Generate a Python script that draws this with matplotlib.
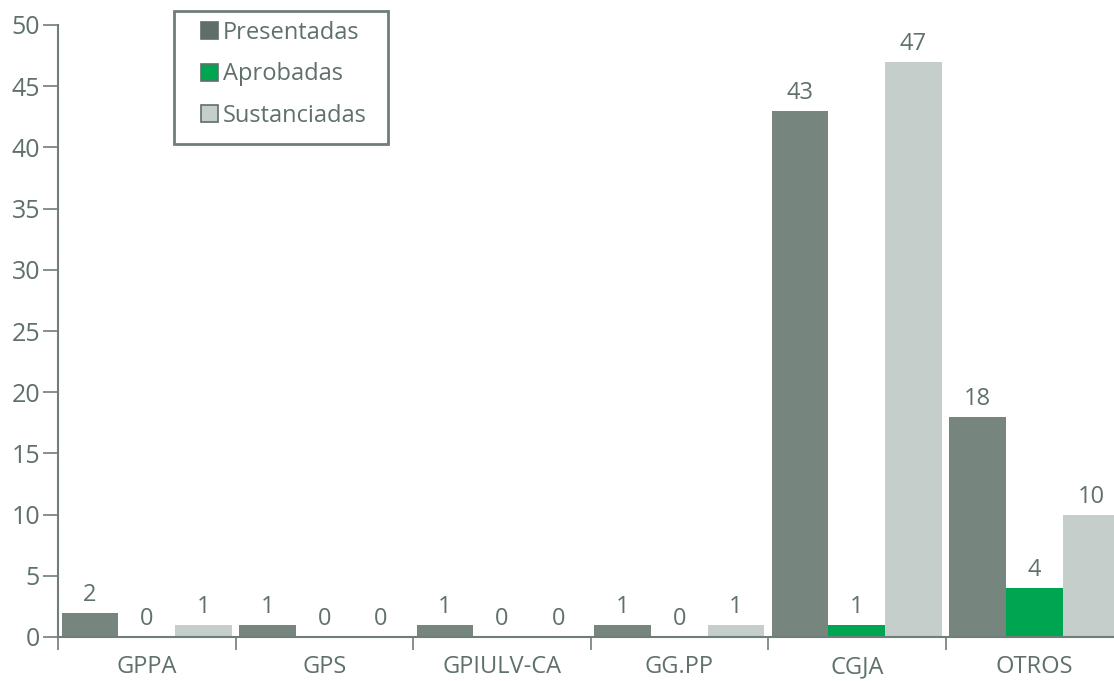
import matplotlib
matplotlib.use("Agg")
import matplotlib.pyplot as plt
from matplotlib.patches import Patch, Rectangle
import numpy as np

categories = ["GPPA", "GPS", "GPIULV-CA", "GG.PP", "CGJA", "OTROS"]
presentadas = [2, 1, 1, 1, 43, 18]
aprobadas = [0, 0, 0, 0, 1, 4]
sustanciadas = [1, 0, 0, 1, 47, 10]
series_names = ["Presentadas", "Aprobadas", "Sustanciadas"]
colors = ["#76857d", "#00a551", "#c5cecb"]
text_color = "#5f7168"
axis_color = "#6f7f77"

plt.rcParams['font.family'] = ['Open Sans', 'DejaVu Sans']

W, H = 1114, 681
fig = plt.figure(figsize=(W / 100, H / 100), dpi=100)
left_px, right_px = 58, 58 + 6 * 177.5
bottom_px, top_px = 637, 25
ax = fig.add_axes([left_px / W, 1 - bottom_px / H, (right_px - left_px) / W, (bottom_px - top_px) / H])

x = np.arange(len(categories))
bw = 0.32
for i, (vals, name, c) in enumerate(zip([presentadas, aprobadas, sustanciadas], series_names, colors)):
    bars = ax.bar(x + (i - 1) * bw, vals, bw, color=c, label=name, linewidth=0)
    ax.bar_label(bars, labels=[str(v) for v in vals], padding=4, fontsize=17, color=text_color)

ax.set_xlim(-0.5, len(categories) - 0.5)
ax.set_ylim(0, 50)
ax.set_yticks(np.arange(0, 51, 5))
ax.set_xticks(x)
ax.set_xticklabels(categories)
ax.set_xticks(np.arange(-0.5, len(categories), 1), minor=True)
ax.tick_params(axis='x', which='major', length=0, pad=13, labelsize=17, labelcolor=text_color)
ax.tick_params(axis='x', which='minor', length=9, width=1.2, color=axis_color, direction='out')
ax.tick_params(axis='y', length=11, width=1.2, color=axis_color, labelsize=18, labelcolor=text_color, pad=2)

for s in ['top', 'right']:
    ax.spines[s].set_visible(False)
for s in ['left', 'bottom']:
    ax.spines[s].set_color(axis_color)
    ax.spines[s].set_linewidth(1.5)

# legend frame drawn as a rectangle in figure pixels
fig.patches.append(Rectangle((174 / W, 1 - 144 / H), (388 - 174) / W, (144 - 11) / H,
                             transform=fig.transFigure, facecolor="white",
                             edgecolor=axis_color, linewidth=2, zorder=5))
handles = [Patch(facecolor=c, edgecolor="#5f6f67", linewidth=1.2) for c in colors]
handles[0] = Patch(facecolor="#5f6f67", edgecolor="#5f6f67", linewidth=1.2)
leg = fig.legend(handles, series_names, loc='upper left',
                 bbox_to_anchor=(201 / W, 1 - 21 / H), frameon=False,
                 fontsize=17, handlelength=0.72, handleheight=0.72, handletextpad=0.2,
                 labelspacing=0.74, borderpad=0, borderaxespad=0)
leg.set_zorder(6)
for t in leg.get_texts():
    t.set_color(text_color)

fig.savefig("out.png", dpi=100)
